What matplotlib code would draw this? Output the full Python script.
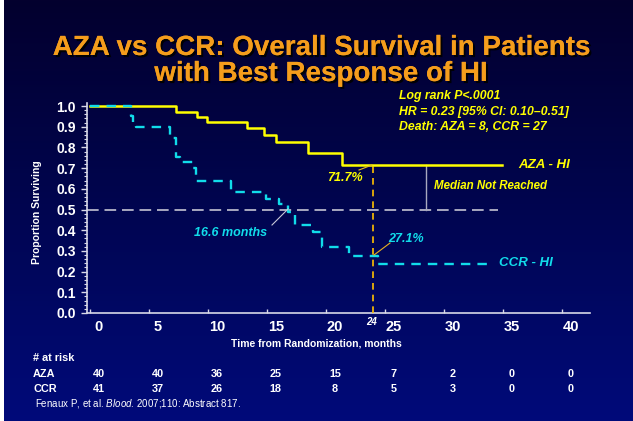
import matplotlib
matplotlib.use("Agg")
import matplotlib.pyplot as plt
import matplotlib.transforms as mtransforms
import matplotlib.patheffects as pe
from matplotlib.colors import LinearSegmentedColormap
from matplotlib.ticker import MultipleLocator
import numpy as np

plt.rcParams['font.family'] = ['Liberation Sans', 'DejaVu Sans']
plt.rcParams['mathtext.fontset'] = 'custom'
plt.rcParams['mathtext.it'] = 'Liberation Sans:italic'
plt.rcParams['mathtext.rm'] = 'Liberation Sans'

# Kaplan-Meier steps
aza_t = [0, 7.3, 9.1, 9.9, 13.3, 14.8, 15.8, 18.5, 21.4, 34.9]
aza_s = [1.0, 0.972, 0.948, 0.921, 0.895, 0.862, 0.824, 0.775, 0.717, 0.717]
ccr_t = [0, 3.45, 3.65, 3.9, 6.8, 7.3, 7.6, 8.75, 9.0, 12.0, 14.9, 16.0, 16.8,
         17.4, 18.9, 19.7, 21.95, 24.4, 33.7]
ccr_s = [1.0, 0.95, 0.92, 0.897, 0.845, 0.755, 0.73, 0.70, 0.636, 0.584, 0.552,
         0.528, 0.486, 0.425, 0.39, 0.317, 0.277, 0.239, 0.239]

risk_times = [0, 5, 10, 15, 20, 25, 30, 35, 40]
aza_risk = [40, 40, 36, 25, 15, 7, 2, 0, 0]
ccr_risk = [41, 37, 26, 18, 8, 5, 3, 0, 0]

stats_lines = ["Log rank P<.0001", "HR = 0.23 [95% CI: 0.10\u20130.51]",
               "Death: AZA = 8, CCR = 27"]

W, H = 633, 421
fig = plt.figure(figsize=(W / 100, H / 100), dpi=100, facecolor='white')

def fx(px):
    return px / W

def fy(py):
    return 1 - py / H

# background gradient
bg = fig.add_axes([fx(4), 0, 1 - fx(4), 1])
bg.set_axis_off()
cmap = LinearSegmentedColormap.from_list('bg', ['#03002e', '#000550', '#000a7a'])
grad = np.linspace(0, 1, 256).reshape(-1, 1)
bg.imshow(grad, aspect='auto', cmap=cmap, extent=[0, 1, 0, 1], origin='upper')

yellow = '#ffff00'
cyan = '#11dcea'
white = 'white'

ax = fig.add_axes([fx(87), fy(313), fx(590) - fx(87), (313 - 102.7) / H])
ax.set_facecolor('none')
ax.set_xlim(-0.25, 42.4)
ax.set_ylim(0, 1.016)

ax.step(aza_t, aza_s, where='post', color=yellow, lw=1.8, zorder=4)
ax.step(ccr_t, ccr_s, where='post', color=cyan, lw=1.7, ls=(0, (4, 3)), zorder=4)

# median reference lines
ax.plot([-0.25, 34.6], [0.5, 0.5], color='#a8a8c0', lw=1.4, ls=(0, (6, 3)), zorder=2)
ax.plot([28.5, 28.5], [0.5, 0.717], color='#a8a8c0', lw=1.0, zorder=2)
ax.plot([24, 24], [0, 0.717], color='#ffc000', lw=1.2, ls=(0, (4, 3)), zorder=3)

for s in ['top', 'right']:
    ax.spines[s].set_visible(False)
for s in ['left', 'bottom']:
    ax.spines[s].set_color('#d8d8e8')
    ax.spines[s].set_linewidth(1.2)

ax.set_xticks(risk_times)
ax.set_yticks(np.round(np.arange(0, 1.01, 0.1), 1))
ax.set_yticklabels([f"{v:.1f}" for v in np.arange(0, 1.01, 0.1)])
ax.yaxis.set_minor_locator(MultipleLocator(0.02))
ax.tick_params(axis='y', which='major', direction='out', length=4, width=1,
               colors='#d8d8e8', labelcolor=white, labelsize=10, pad=4)
ax.tick_params(axis='y', which='minor', direction='out', length=2.5, width=0.8,
               colors='#d8d8e8')
ax.tick_params(axis='x', direction='in', length=3, width=1, colors='#d8d8e8',
               labelcolor=white, labelsize=10.5, pad=5)
for lab in ax.get_yticklabels() + ax.get_xticklabels():
    lab.set_fontweight('bold')
offset = mtransforms.ScaledTranslation(0.09, 0, fig.dpi_scale_trans)
for lab in ax.get_xticklabels():
    lab.set_transform(lab.get_transform() + offset)

fig.text(fx(37), fy(212), "Proportion Surviving", rotation=90, color=white,
         fontsize=7.5, fontweight='bold', ha='center', va='center')
fig.text(fx(316), fy(344), "Time from Randomization, months", color=white,
         fontsize=7.5, fontweight='bold', ha='center', va='center')

# title
shadow = [pe.withSimplePatchShadow(offset=(1.5, -1.5), shadow_rgbFace='black', alpha=0.9),
          pe.Normal()]
fig.text(fx(321), fy(48), "AZA vs CCR: Overall Survival in Patients", color='#f59d1c',
         fontsize=20, fontweight='bold', ha='center', va='center', path_effects=shadow)
fig.text(fx(321), fy(74), "with Best Response of HI", color='#f59d1c',
         fontsize=20, fontweight='bold', ha='center', va='center', path_effects=shadow)

# stats block
for i, line in enumerate(stats_lines):
    fig.text(fx(399), fy(96 + i * 15.5), line, color=yellow, fontsize=8.8,
             fontweight='bold', fontstyle='italic', ha='left', va='center')

ital = dict(fontweight='bold', fontstyle='italic', va='center')
fig.text(fx(518), fy(165), "AZA - HI", color=yellow, fontsize=9.5, ha='left', **ital)
fig.text(fx(499), fy(263), "CCR - HI", color=cyan, fontsize=9.5, ha='left', **ital)
fig.text(fx(434), fy(186), "Median Not Reached", color=yellow, fontsize=8.3, ha='left', **ital)
fig.text(fx(327), fy(178), "71.7%", color=yellow, fontsize=9, ha='left', **ital)
fig.text(fx(388), fy(239), "27.1%", color=cyan, fontsize=9, ha='left', **ital)
fig.text(fx(194), fy(233), "16.6 months", color=cyan, fontsize=9, ha='left', **ital)

# leader lines (figure pixels)
for (x0, y0, x1, y1, c) in [(359, 170, 372, 165, '#e8c020'),
                            (374, 255, 390, 243, '#e8b020'),
                            (272, 225, 288, 209, '#c8c8d8')]:
    fig.add_artist(plt.Line2D([fx(x0), fx(x1)], [fy(y0), fy(y1)], color=c, lw=0.8,
                              transform=fig.transFigure))

fig.text(fx(372), fy(322), "24", color=white, fontsize=7, fontweight='bold',
         fontstyle='italic', ha='center', va='center')

# number at risk
trans = mtransforms.blended_transform_factory(ax.transData, fig.transFigure) + offset
fig.text(fx(33), fy(358), "# at risk", color=white, fontsize=7.8, fontweight='bold',
         ha='left', va='center')
fig.text(fx(33), fy(374), "AZA", color=white, fontsize=7.8, fontweight='bold',
         ha='left', va='center')
fig.text(fx(33), fy(389), "CCR", color=white, fontsize=7.8, fontweight='bold',
         ha='left', va='center')
for t, a, c in zip(risk_times, aza_risk, ccr_risk):
    fig.text(t, fy(374), str(a), color=white, fontsize=7.8, fontweight='bold',
             ha='center', va='center', transform=trans)
    fig.text(t, fy(389), str(c), color=white, fontsize=7.8, fontweight='bold',
             ha='center', va='center', transform=trans)

fig.text(fx(35), fy(403), r"Fenaux P, et al. $\it{Blood}$. 2007;110: Abstract 817.",
         color=white, fontsize=7, ha='left', va='center')

fig.savefig("out.png", dpi=100, facecolor='white')
